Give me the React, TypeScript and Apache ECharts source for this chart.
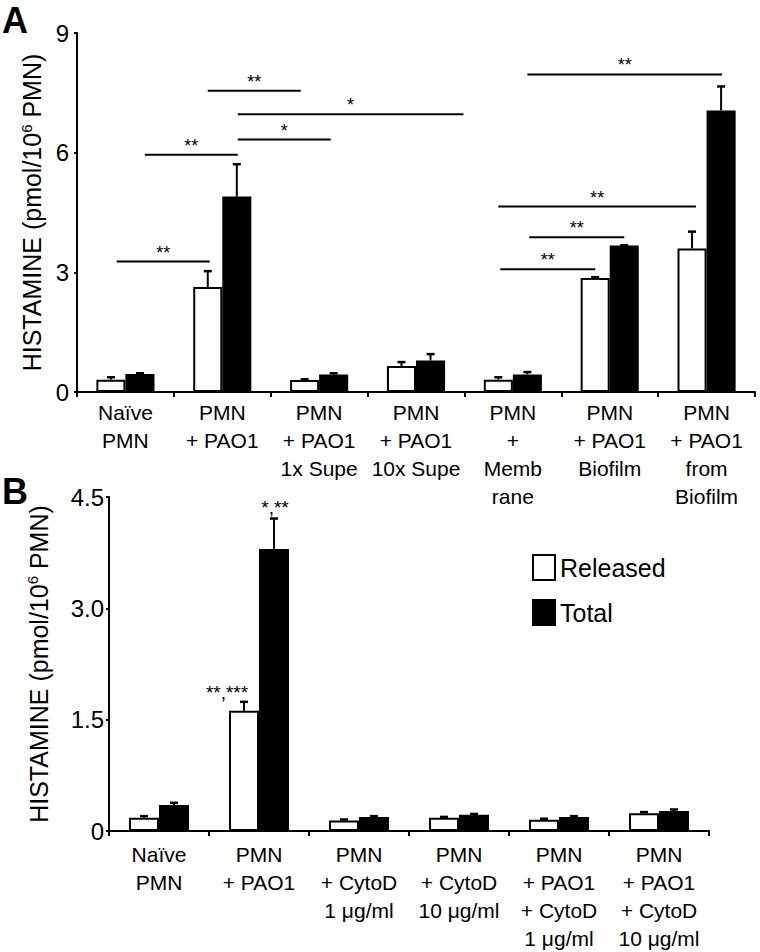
import React, { useEffect, useRef } from "react";
import * as echarts from "echarts";

// ---------- Data ----------
const categoriesA = [
  "Naïve\nPMN",
  "PMN\n+ PAO1",
  "PMN\n+ PAO1\n1x Supe",
  "PMN\n+ PAO1\n10x Supe",
  "PMN\n+\nMemb\nrane",
  "PMN\n+ PAO1\nBiofilm",
  "PMN\n+ PAO1\nfrom\nBiofilm",
];
const releasedA = [0.31, 2.63, 0.3, 0.65, 0.31, 2.86, 3.6];
const releasedErrA = [0.06, 0.4, 0.02, 0.1, 0.06, 0.02, 0.42];
const totalA = [0.45, 4.9, 0.44, 0.79, 0.44, 3.67, 7.06];
const totalErrA = [0.02, 0.81, 0.03, 0.16, 0.06, 0.01, 0.6];

// significance brackets in panel A (positions in category units, y in data units)
const bracketStart = [-0.09, 0.2, 0.85, 1.16, 1.16, 3.87, 4.17, 3.85, 4.15];
const bracketEnd = [0.87, 1.16, 1.81, 2.12, 3.49, 4.85, 5.15, 5.89, 6.16];
const bracketY = [3.27, 5.95, 7.55, 6.33, 6.96, 3.08, 3.88, 4.65, 7.96];
const bracketLabel = ["**", "**", "**", "*", "*", "**", "**", "**", "**"];

const categoriesB = [
  "Naïve\nPMN",
  "PMN\n+ PAO1",
  "PMN\n+ CytoD\n1 μg/ml",
  "PMN\n+ CytoD\n10 μg/ml",
  "PMN\n+ PAO1\n+ CytoD\n1 μg/ml",
  "PMN\n+ PAO1\n+ CytoD\n10 μg/ml",
];
const releasedB = [0.18, 1.62, 0.14, 0.18, 0.15, 0.24];
const releasedErrB = [0.02, 0.12, 0.015, 0.01, 0.015, 0.015];
const totalB = [0.35, 3.8, 0.19, 0.22, 0.19, 0.27];
const totalErrB = [0.03, 0.41, 0.01, 0.01, 0.01, 0.02];
const annotReleasedB = ["", "**,***", "", "", "", ""];
const annotTotalB = ["", "*,**", "", "", "", ""];

const ticksA = [0, 3, 6, 9];
const ticksB = [0, 1.5, 3, 4.5];

const FONT = "'Liberation Sans', Arial, Helvetica, sans-serif";
const BAR_FRAC = 0.3;

function errorSeries(
  gridIdx: number,
  rel: number[],
  relErr: number[],
  tot: number[],
  totErr: number[],
  annRel?: string[],
  annTot?: string[]
) {
  const data = rel.map((v, i) => [i, v, relErr[i], tot[i], totErr[i]]);
  return {
    type: "custom",
    xAxisIndex: gridIdx,
    yAxisIndex: gridIdx,
    z: 5,
    silent: true,
    data,
    renderItem: (params: any, api: any) => {
      const i = api.value(0);
      const base = api.coord([i, 0]);
      const bw = api.size([1, 0])[0];
      const w = bw * BAR_FRAC;
      const children: any[] = [];
      const items = [
        { cx: base[0] - w / 2, v: api.value(1), e: api.value(2), ann: annRel ? annRel[i] : "", dx: -17, up: 14 },
        { cx: base[0] + w / 2, v: api.value(3), e: api.value(4), ann: annTot ? annTot[i] : "", dx: 1, up: 16 },
      ];
      items.forEach((it) => {
        const p0 = api.coord([i, it.v]);
        const p1 = api.coord([i, it.v + it.e]);
        const x = it.cx;
        children.push({
          type: "line",
          shape: { x1: x, y1: p0[1], x2: x, y2: p1[1] },
          style: { stroke: "#000", lineWidth: 2 },
        });
        children.push({
          type: "line",
          shape: { x1: x - 4, y1: p1[1], x2: x + 4, y2: p1[1] },
          style: { stroke: "#000", lineWidth: 2.5 },
        });
        if (it.ann) {
          children.push({
            type: "text",
            x: x + it.dx,
            y: p1[1] - it.up + 5,
            style: {
              text: it.ann,
              fill: "#000",
              font: `19px ${FONT}`,
              align: "center",
              verticalAlign: "middle",
            },
          });
        }
      });
      return { type: "group", children };
    },
  };
}

function bracketSeries() {
  const data = bracketY.map((y, k) => [0, y, bracketStart[k], bracketEnd[k]]);
  return {
    type: "custom",
    xAxisIndex: 0,
    yAxisIndex: 0,
    z: 6,
    silent: true,
    clip: false,
    data,
    renderItem: (params: any, api: any) => {
      const y = api.value(1);
      const p0 = api.coord([0, y]);
      const p1 = api.coord([1, y]);
      const bw = p1[0] - p0[0];
      const x1 = p0[0] + api.value(2) * bw;
      const x2 = p0[0] + api.value(3) * bw;
      return {
        type: "group",
        children: [
          {
            type: "line",
            shape: { x1, y1: p0[1], x2, y2: p0[1] },
            style: { stroke: "#000", lineWidth: 2 },
          },
          {
            type: "text",
            x: (x1 + x2) / 2,
            y: p0[1] - 9,
            style: {
              text: bracketLabel[params.dataIndex],
              fill: "#000",
              font: `18px ${FONT}`,
              align: "center",
              verticalAlign: "middle",
            },
          },
        ],
      };
    },
  };
}

const axisLineStyle = { color: "#000", width: 2 };

function xAxis(gridIndex: number, data: string[], margin: number) {
  return {
    type: "category",
    gridIndex,
    data,
    axisLine: { show: true, lineStyle: axisLineStyle },
    axisTick: { show: true, length: 5, lineStyle: axisLineStyle },
    axisLabel: {
      interval: 0,
      color: "#000",
      fontSize: 21,
      lineHeight: 28,
      margin,
      fontFamily: FONT,
    },
    splitLine: { show: false },
  };
}

const yName = "{a|HISTAMINE (pmol/10}{s|6}{a| PMN)}";
const yNameStyle = {
  color: "#000",
  fontSize: 25,
  fontFamily: FONT,
  rich: {
    a: { fontSize: 25, fontFamily: FONT, color: "#000" },
    s: { fontSize: 15, fontFamily: FONT, color: "#000", padding: [0, 0, 12, 0] },
  },
};

function yAxis(gridIndex: number, ticks: number[], nameGap: number, margin: number, fmt: (v: number) => string) {
  return {
    type: "value",
    gridIndex,
    min: ticks[0],
    max: ticks[ticks.length - 1],
    interval: ticks[1] - ticks[0],
    axisLine: { show: true, lineStyle: axisLineStyle },
    axisTick: { show: true, length: 3, lineStyle: axisLineStyle },
    splitLine: { show: false },
    axisLabel: { color: "#000", fontSize: 24, fontFamily: FONT, margin, formatter: fmt },
    name: yName,
    nameLocation: "middle",
    nameRotate: 90,
    nameGap,
    nameTextStyle: yNameStyle,
  };
}

function barPair(gridIdx: number, rel: number[], tot: number[]) {
  return [
    {
      type: "bar",
      name: "Released",
      xAxisIndex: gridIdx,
      yAxisIndex: gridIdx,
      data: rel,
      barWidth: "30%",
      barGap: "0%",
      itemStyle: { color: "#fff", borderColor: "#000", borderWidth: 2 },
    },
    {
      type: "bar",
      name: "Total",
      xAxisIndex: gridIdx,
      yAxisIndex: gridIdx,
      data: tot,
      barWidth: "30%",
      barGap: "0%",
      itemStyle: { color: "#000", borderColor: "#000", borderWidth: 2 },
    },
  ];
}

export default function App() {
  const ref = useRef<HTMLDivElement>(null);
  useEffect(() => {
    if (!ref.current) return;
    const chart = echarts.init(ref.current, null, { renderer: "svg" });
    const option: any = {
      animation: false,
      backgroundColor: "#fff",
      textStyle: { fontFamily: FONT, color: "#000" },
      grid: [
        { left: 77, top: 33, width: 678, height: 359 },
        { left: 109, top: 497, width: 600, height: 336 },
      ],
      xAxis: [xAxis(0, categoriesA, 6), xAxis(1, categoriesB, 9)],
      yAxis: [
        yAxis(0, ticksA, 25, 8, (v: number) => String(v)),
        yAxis(1, ticksB, 57, 5, (v: number) => (v === 0 ? "0" : v.toFixed(1))),
      ],
      legend: {
        data: ["Released", "Total"],
        orient: "vertical",
        left: 532,
        top: 554,
        icon: "rect",
        itemWidth: 22,
        itemHeight: 25,
        itemGap: 18,
        padding: 0,
        textStyle: { fontSize: 25, color: "#000", fontFamily: FONT },
      },
      graphic: [
        { type: "text", left: 2, top: 2, style: { text: "A", font: `bold 36px ${FONT}`, fill: "#000" } },
        { type: "text", left: 2, top: 473, style: { text: "B", font: `bold 36px ${FONT}`, fill: "#000" } },
      ],
      series: [
        ...barPair(0, releasedA, totalA),
        ...barPair(1, releasedB, totalB),
        errorSeries(0, releasedA, releasedErrA, totalA, totalErrA),
        errorSeries(1, releasedB, releasedErrB, totalB, totalErrB, annotReleasedB, annotTotalB),
        bracketSeries(),
      ],
    };
    chart.setOption(option);
    return () => chart.dispose();
  }, []);
  return (
    <div
      ref={ref}
      style={{ position: "absolute", left: 0, top: 0, width: 760, height: 952 }}
    />
  );
}
